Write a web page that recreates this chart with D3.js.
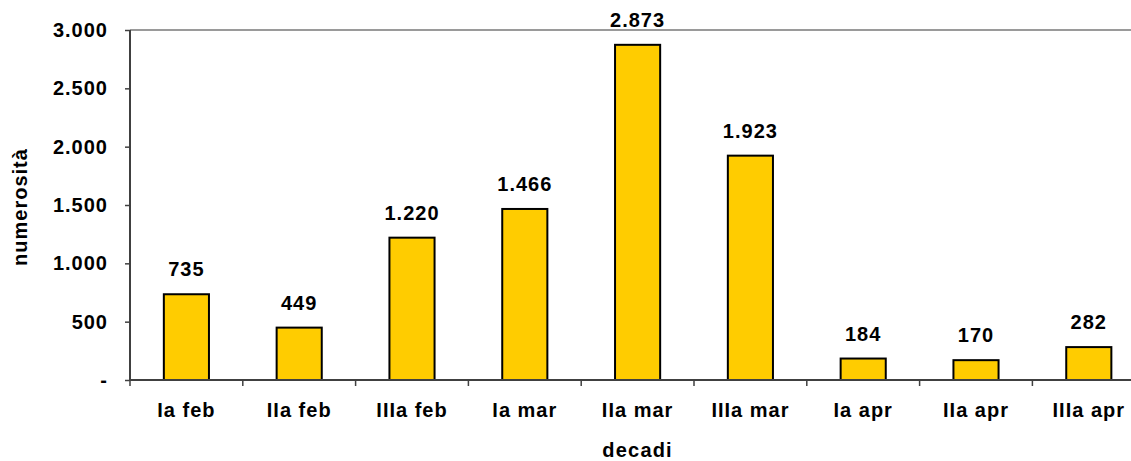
<!DOCTYPE html>
<html><head><meta charset="utf-8">
<script src="https://cdn.jsdelivr.net/npm/d3@7"></script>
<style>
body{margin:0;background:#fff;}
text{font-family:"Liberation Sans",Arial,sans-serif;font-weight:bold;fill:#000;}
</style></head>
<body><svg id="c" width="1131" height="461"></svg>
<script>
const categories = ["Ia feb","IIa feb","IIIa feb","Ia mar","IIa mar","IIIa mar","Ia apr","IIa apr","IIIa apr"];
const values = [735,449,1220,1466,2873,1923,184,170,282];
const yTicks = [0,500,1000,1500,2000,2500,3000];
const yTitle = "numerosità";
const xTitle = "decadi";

const loc = d3.formatLocale({decimal:",",thousands:".",grouping:[3],currency:["","€"]});
const fmt = loc.format(",d");
const tickFmt = v => v === 0 ? "-" : fmt(v);

const svg = d3.select("#c");
const mLeft = 130, bandW = 112.8, mRight = mLeft + bandW*categories.length;
const mTop = 30, mBottom = 380;
const FS = "20px", LS = "1px";

const x = d3.scaleBand().domain(categories).range([mLeft,mRight]).paddingInner(0).paddingOuter(0);
const y = d3.scaleLinear().domain([0,3000]).range([mBottom,mTop]);
const barW = x.bandwidth()/2.5;

// top border line
svg.append("line").attr("x1",mLeft).attr("x2",1131).attr("y1",y(3000)).attr("y2",y(3000))
  .attr("stroke","#9a9a9a").attr("stroke-width",2);

// bars
svg.append("g").selectAll("rect").data(values).join("rect")
  .attr("x",(d,i)=>x(categories[i])+x.bandwidth()/2-barW/2)
  .attr("width",barW)
  .attr("y",d=>y(d))
  .attr("height",d=>y(0)-y(d))
  .attr("fill","#FFCC00").attr("stroke","#000").attr("stroke-width",2);

// value labels
svg.append("g").selectAll("text").data(values).join("text")
  .attr("x",(d,i)=>x(categories[i])+x.bandwidth()/2)
  .attr("y",d=>y(d)-18)
  .attr("text-anchor","middle")
  .style("font-size",FS).style("letter-spacing",LS)
  .text(d=>fmt(d));

// y axis
const ya = svg.append("g").attr("transform",`translate(${mLeft},0)`)
  .call(d3.axisLeft(y).tickValues(yTicks).tickFormat(tickFmt).tickSize(5).tickPadding(17));
ya.select(".domain").attr("stroke","#404040").attr("stroke-width",2).attr("d",`M-0,${mBottom}V${mTop}`);
ya.selectAll(".tick line").attr("stroke","#404040").attr("stroke-width",1.5);
ya.selectAll(".tick text").style("font-size",FS).style("letter-spacing",LS)
  .style("font-family","Liberation Sans, Arial, sans-serif").style("font-weight","bold").attr("fill","#000");

// x axis
const xa = svg.append("g").attr("transform",`translate(0,${mBottom})`)
  .call(d3.axisBottom(x).tickSize(0).tickPadding(24));
xa.select(".domain").remove();
svg.append("line").attr("x1",mLeft).attr("x2",1131).attr("y1",mBottom).attr("y2",mBottom)
  .attr("stroke","#404040").attr("stroke-width",2);
svg.append("g").selectAll("line").data(d3.range(categories.length+1)).join("line")
  .attr("x1",i=>mLeft+i*x.step()).attr("x2",i=>mLeft+i*x.step())
  .attr("y1",mBottom).attr("y2",mBottom+6)
  .attr("stroke","#404040").attr("stroke-width",1.5);
xa.selectAll(".tick text").style("font-size",FS).style("letter-spacing",LS)
  .style("font-family","Liberation Sans, Arial, sans-serif").style("font-weight","bold").attr("fill","#000")
  .attr("dy",null).attr("y",37);

// titles
svg.append("text").attr("x",(mLeft+mRight)/2).attr("y",457).attr("text-anchor","middle")
  .style("font-size",FS).style("letter-spacing","1.2px").text(xTitle);
svg.append("text").attr("transform",`translate(27,${(mTop+mBottom)/2+2}) rotate(-90)`)
  .attr("text-anchor","middle").style("font-size",FS).style("letter-spacing",LS).text(yTitle);
</script></body></html>
